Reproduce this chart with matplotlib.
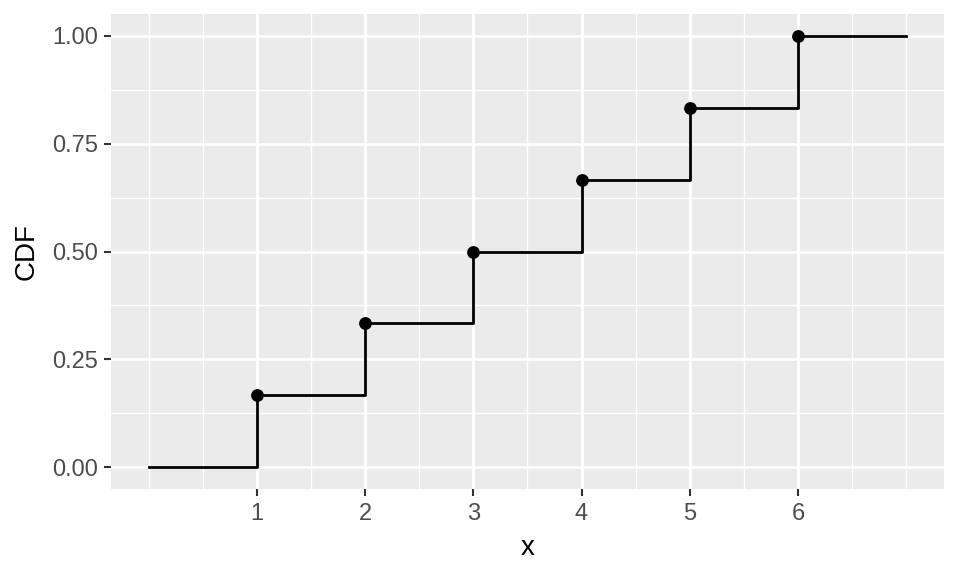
import matplotlib
matplotlib.use("Agg")
import matplotlib.pyplot as plt
import numpy as np

plt.rcParams['font.family'] = ['Liberation Sans', 'DejaVu Sans']

# step function data: outcomes of a fair die
x_vals = [0, 1, 2, 3, 4, 5, 6, 7]
cdf_vals = [0, 1/6, 2/6, 3/6, 4/6, 5/6, 1, 1]
pt_x = [1, 2, 3, 4, 5, 6]
pt_y = [1/6, 2/6, 3/6, 4/6, 5/6, 1]

x_ticks = [1, 2, 3, 4, 5, 6]
x_minor = [0, 0.5, 1.5, 2.5, 3.5, 4.5, 5.5, 6.5, 7]
y_ticks = [0, 0.25, 0.5, 0.75, 1.0]
y_minor = [0.125, 0.375, 0.625, 0.875]

fig = plt.figure(figsize=(9.6, 5.76), dpi=100)
ax = fig.add_axes([0.1156, 0.151, 0.8677, 0.8247])
ax.set_facecolor('#EBEBEB')

for v in x_minor:
    ax.axvline(v, color='white', lw=1.0, zorder=1)
for v in y_minor:
    ax.axhline(v, color='white', lw=1.0, zorder=1)
for v in x_ticks:
    ax.axvline(v, color='white', lw=2.0, zorder=1)
for v in y_ticks:
    ax.axhline(v, color='white', lw=2.0, zorder=1)

ax.step(x_vals, cdf_vals, where='post', color='black', lw=2.0, zorder=3)
ax.scatter(pt_x, pt_y, s=85, color='black', zorder=4, linewidths=0)

ax.set_xlim(-0.35, 7.35)
ax.set_ylim(-0.05, 1.05)
ax.set_xticks(x_ticks)
ax.set_xticklabels([str(t) for t in x_ticks])
ax.set_yticks(y_ticks)
ax.set_yticklabels(['0.00', '0.25', '0.50', '0.75', '1.00'])

for s in ax.spines.values():
    s.set_visible(False)
ax.tick_params(axis='both', length=5, width=1.5, color='#333333',
               labelcolor='#4D4D4D', labelsize=17, pad=4)
ax.tick_params(axis='x', pad=5)

ax.set_xlabel('x', fontsize=20, labelpad=7)
ax.set_ylabel('CDF', fontsize=20, labelpad=9)

fig.savefig('out.png', dpi=100)
